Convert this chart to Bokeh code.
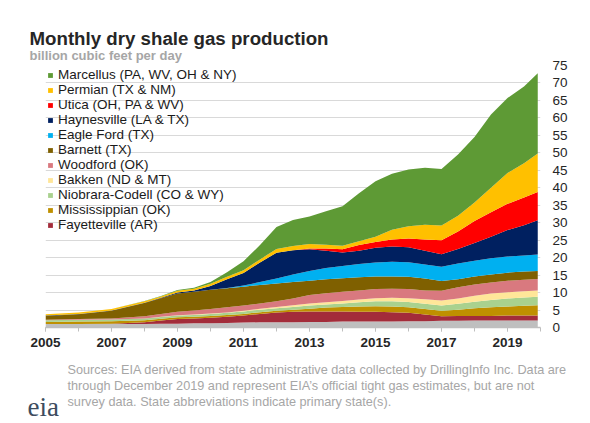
from bokeh.plotting import figure
from bokeh.models import (ColumnDataSource, Legend, LegendItem, Label, FixedTicker, Range1d)
from bokeh.embed import file_html
from bokeh.resources import INLINE

# ---------------- data (billion cubic feet per day) ----------------
months = ["2005-01", "2006-01", "2007-01", "2008-01", "2008-07", "2009-01", "2009-07",
          "2010-01", "2010-07", "2011-01", "2011-07", "2012-01", "2012-07", "2013-01",
          "2013-07", "2014-01", "2014-07", "2015-01", "2015-07", "2016-01", "2016-07",
          "2017-01", "2017-07", "2018-01", "2018-07", "2019-01", "2019-07", "2019-12"]

rest_of_us    = [1.0, 1.0, 1.0, 1.0, 1.1, 1.1, 1.2, 1.2, 1.3, 1.4, 1.5, 1.5, 1.5, 1.6, 1.6, 1.7, 1.7, 1.7, 1.7, 1.8, 1.8, 1.9, 1.9, 2.0, 2.0, 2.0, 2.0, 2.0]
fayetteville  = [0.0, 0.0, 0.1, 0.5, 0.9, 1.3, 1.4, 1.6, 1.8, 2.0, 2.4, 2.8, 3.0, 3.0, 3.0, 2.9, 2.8, 2.8, 2.7, 2.4, 1.9, 1.3, 1.4, 1.3, 1.3, 1.4, 1.4, 1.4]
mississippian = [0.6, 0.7, 0.7, 0.6, 0.5, 0.5, 0.5, 0.5, 0.5, 0.5, 0.5, 0.5, 0.6, 0.8, 1.1, 1.3, 1.5, 1.6, 1.6, 1.6, 1.6, 1.6, 1.8, 2.2, 2.5, 2.6, 2.8, 3.0]
niobrara      = [0.5, 0.5, 0.5, 0.5, 0.5, 0.5, 0.5, 0.6, 0.6, 0.7, 0.7, 0.7, 0.8, 0.9, 0.9, 1.0, 1.2, 1.4, 1.5, 1.5, 1.5, 1.5, 1.7, 1.9, 2.1, 2.3, 2.4, 2.4]
bakken        = [0.0, 0.0, 0.0, 0.0, 0.1, 0.1, 0.1, 0.1, 0.1, 0.2, 0.3, 0.4, 0.5, 0.6, 0.6, 0.7, 0.8, 0.9, 1.0, 1.1, 1.3, 1.4, 1.5, 1.7, 1.8, 1.8, 1.8, 1.8]
woodford      = [0.1, 0.2, 0.3, 0.6, 0.8, 1.0, 1.2, 1.3, 1.5, 1.5, 1.5, 1.6, 1.9, 2.4, 2.6, 2.6, 2.6, 2.6, 2.6, 2.6, 2.5, 2.8, 3.2, 3.2, 3.2, 3.3, 3.3, 3.3]
barnett       = [1.1, 1.4, 2.2, 3.8, 4.5, 5.2, 5.3, 5.5, 5.4, 5.4, 5.3, 5.1, 4.7, 4.1, 4.0, 3.9, 3.8, 3.6, 3.5, 3.5, 3.4, 2.8, 2.3, 2.3, 2.3, 2.3, 2.3, 2.3]
eagle_ford    = [0.0, 0.0, 0.0, 0.0, 0.0, 0.0, 0.0, 0.0, 0.1, 0.3, 0.8, 1.4, 2.2, 2.8, 3.2, 3.5, 3.8, 4.0, 4.2, 4.2, 4.0, 4.1, 4.5, 4.5, 4.6, 4.6, 4.6, 4.7]
haynesville   = [0.1, 0.1, 0.1, 0.1, 0.1, 0.3, 0.4, 1.1, 2.5, 3.6, 5.6, 7.4, 6.9, 6.2, 5.0, 3.9, 3.8, 4.2, 4.4, 4.3, 4.0, 3.6, 4.2, 5.1, 6.2, 7.6, 8.7, 9.8]
utica         = [0.0, 0.0, 0.0, 0.0, 0.0, 0.0, 0.0, 0.0, 0.0, 0.0, 0.0, 0.0, 0.0, 0.2, 0.6, 0.9, 1.6, 1.7, 2.0, 2.5, 3.2, 4.0, 5.0, 6.3, 7.0, 7.5, 7.9, 8.1]
permian       = [0.4, 0.4, 0.4, 0.4, 0.4, 0.5, 0.5, 0.6, 0.7, 0.8, 0.9, 1.1, 1.2, 1.3, 1.1, 1.0, 1.1, 1.5, 2.8, 3.5, 4.2, 4.2, 4.5, 5.3, 7.0, 8.8, 9.8, 11.0]
marcellus     = [0.0, 0.0, 0.0, 0.1, 0.1, 0.2, 0.3, 0.5, 1.3, 2.6, 4.1, 6.3, 7.5, 7.9, 9.6, 11.3, 13.7, 15.9, 16.0, 16.2, 16.3, 16.2, 17.5, 18.7, 21.0, 21.5, 22.0, 23.0]

x_tick_labels = [2005, 2007, 2009, 2011, 2013, 2015, 2017, 2019]
y_ticks = list(range(0, 80, 5))

keys = ["rest", "fay", "miss", "nio", "bak", "wood", "barn", "ef", "hay", "uti", "perm", "marc"]
series = [rest_of_us, fayetteville, mississippian, niobrara, bakken, woodford, barnett,
          eagle_ford, haynesville, utica, permian, marcellus]
names = [None, "Fayetteville (AR)", "Mississippian (OK)", "Niobrara-Codell (CO & WY)",
         "Bakken (ND & MT)", "Woodford (OK)", "Barnett (TX)", "Eagle Ford (TX)",
         "Haynesville (LA & TX)", "Utica (OH, PA & WV)", "Permian (TX & NM)",
         "Marcellus (PA, WV, OH & NY)"]
colors = ["#bfbfbf", "#a32c3a", "#bf9000", "#a9d18e", "#ffe699", "#d9797f", "#7f6000",
          "#00b0f0", "#002060", "#ff0000", "#ffc000", "#5e9a35"]

x_dec = [int(m[:4]) + (int(m[5:]) - 1) / 12.0 for m in months]
data = {"x": x_dec}
for k, s in zip(keys, series):
    data[k] = s
source = ColumnDataSource(data)

W, H = 588, 421
FL, FR, FT, FB = 45, 540, 65, 333
X0, X1, Y0, Y1 = 2005.0, 2020.0, 0.0, 75.0

p = figure(width=W, height=H, output_backend="svg", toolbar_location=None,
           x_range=Range1d(X0, X1), y_range=Range1d(Y0, Y1), y_axis_location="right",
           min_border_left=FL, min_border_right=W - FR,
           min_border_top=FT, min_border_bottom=H - FB)
p.outline_line_color = None
p.background_fill_color = "white"
p.border_fill_color = "white"

renderers = p.varea_stack(stackers=keys, x="x", color=colors, source=source)

FONT = "Liberation Sans"

p.xgrid.visible = False
p.ygrid.ticker = FixedTicker(ticks=y_ticks)
p.ygrid.grid_line_color = "#d9d9d9"
p.ygrid.grid_line_width = 1

xa = p.xaxis[0]
xa.ticker = FixedTicker(ticks=x_tick_labels, minor_ticks=list(range(2005, 2021)))
xa.axis_line_color = "#bfbfbf"
xa.axis_line_width = 1.5
xa.major_tick_line_color = "#bfbfbf"
xa.minor_tick_line_color = "#bfbfbf"
xa.major_tick_out = 4
xa.major_tick_in = 0
xa.minor_tick_out = 4
xa.minor_tick_in = 0
xa.major_label_standoff = 6
xa.major_label_text_font = FONT
xa.major_label_text_font_size = "13.5px"
xa.major_label_text_font_style = "bold"
xa.major_label_text_color = "#262626"

ya = p.yaxis[0]
ya.ticker = FixedTicker(ticks=y_ticks)
ya.axis_line_color = None
ya.major_tick_line_color = None
ya.minor_tick_line_color = None
ya.major_tick_out = 0
ya.major_label_standoff = 12
ya.major_label_text_font = FONT
ya.major_label_text_font_size = "13.5px"
ya.major_label_text_color = "#262626"

items = []
for r, n in reversed(list(zip(renderers, names))):
    if n is not None:
        items.append(LegendItem(label=n, renderers=[r]))
legend = Legend(items=items, location=(2, 95), orientation="vertical",
                background_fill_alpha=0, border_line_alpha=0,
                label_text_font=FONT, label_text_font_size="13.5px", label_text_color="#1a1a1a",
                glyph_width=6, glyph_height=6, label_standoff=5, spacing=0,
                padding=0, margin=0, label_height=14)
p.add_layout(legend)

def lab(x, y, text, side, **kw):
    p.add_layout(Label(x=x, y=y, x_units="canvas", y_units="canvas", text=text, **kw), side)

lab(29, 37.5, "Monthly dry shale gas production", "above", text_font=FONT,
    text_font_size="18.7px", text_font_style="bold", text_color="#262626",
    text_baseline="alphabetic")
lab(29, 54.5, "billion cubic feet per day", "above", text_font=FONT, text_font_size="13px",
    text_font_style="bold", text_color="#a6a6a6", text_baseline="alphabetic")

notes = ["Sources: EIA derived from state administrative data collected by DrillingInfo Inc. Data are",
         "through December 2019  and represent EIA\u2019s  official tight gas estimates, but are not",
         "survey data. State abbreviations indicate primary state(s)."]
for i, t in enumerate(notes):
    lab(67, 369 + 16 * i, t, "below", text_font=FONT, text_font_size="12.7px",
        text_color="#a6a6a6", text_baseline="middle")

lab(27, 406, "eia", "below", text_font="Liberation Serif", text_font_size="27px",
    text_color="#3d4c5e", text_baseline="alphabetic")

open("out.html", "w").write(file_html(p, INLINE))
